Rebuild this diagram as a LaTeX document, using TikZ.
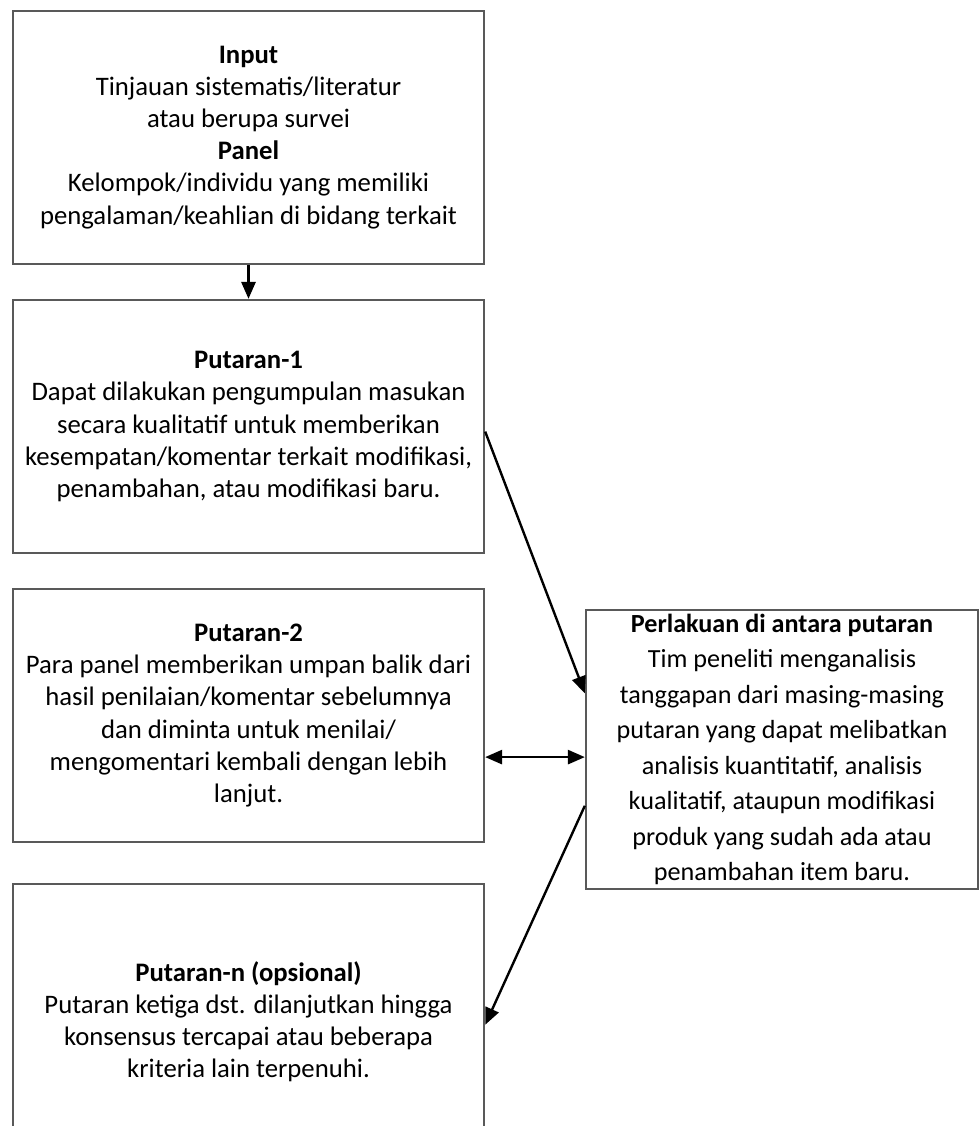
\documentclass[tikz,border=0pt]{standalone}
\usepackage{fontspec}
\setmainfont{Carlito}
\usetikzlibrary{positioning,calc,arrows.meta}

\tikzset{
    box/.style={draw=black!65, line width=1.6pt, align=center, inner sep=0pt,
        minimum width=11.775cm, minimum height=6.325cm,
        font=\fontsize{19}{22.8}\selectfont},
    flow/.style={-{Triangle[length=12pt,width=10pt]}, line width=1.7pt},
    both/.style={{Triangle[length=12pt,width=10pt]}-{Triangle[length=12pt,width=10pt]}, line width=1.7pt}
}

\begin{document}
\begin{tikzpicture}[x=0.025cm,y=-0.025cm]
    \useasboundingbox (0,0) rectangle (979,1126);
    \clip (0,0) rectangle (979,1126);
    \fill[white] (0,0) rectangle (979,1126);

    % Left column
    \node[box] (inp) at (248.5,137.5) {\textbf{Input}\\Tinjauan sistematis/literatur\\atau berupa survei\\\textbf{Panel}\\Kelompok/individu yang memiliki\\pengalaman/keahlian di bidang terkait};
    \node[box] (put1) at (248.5,426.5) {\textbf{Putaran-1}\\Dapat dilakukan pengumpulan masukan\\secara kualitatif untuk memberikan\\kesempatan/komentar terkait modifikasi,\\penambahan, atau modifikasi baru.};
    \node[box] (put2) at (248.5,715.5) {\textbf{Putaran-2}\\Para panel memberikan umpan balik dari\\hasil penilaian/komentar sebelumnya\\dan diminta untuk menilai/\\mengomentari kembali dengan lebih\\lanjut.};
    \node[box, minimum height=6.9cm] (putn) at (248.5,1022) {\textbf{Putaran-n (opsional)}\\Putaran ketiga dst. dilanjutkan hingga\\konsensus tercapai atau beberapa\\kriteria lain terpenuhi.};

    % Between rounds
    \node[box, minimum width=9.8cm, minimum height=6.975cm, font=\fontsize{18.6}{25.2}\selectfont] (perl) at (782,749.5) {\textbf{Perlakuan di antara putaran}\\Tim peneliti menganalisis\\tanggapan dari masing-masing\\putaran yang dapat melibatkan\\analisis kuantitatif, analisis\\kualitatif, ataupun modifikasi\\produk yang sudah ada atau\\penambahan item baru.};

    % Connectors
    \draw[flow] (inp) -- (put1);
    \draw[flow] ($(put1.north east)!0.52!(put1.south east)$) -- ($(perl.north west)!0.30!(perl.south west)$);
    \coordinate (mid) at ($(perl.north west)!0.527!(perl.south west)$);
    \draw[both] (mid -| put2.east) -- (mid);
    \draw[flow] ($(perl.north west)!0.70!(perl.south west)$) -- ($(putn.north east)!0.51!(putn.south east)$);
\end{tikzpicture}
\end{document}
